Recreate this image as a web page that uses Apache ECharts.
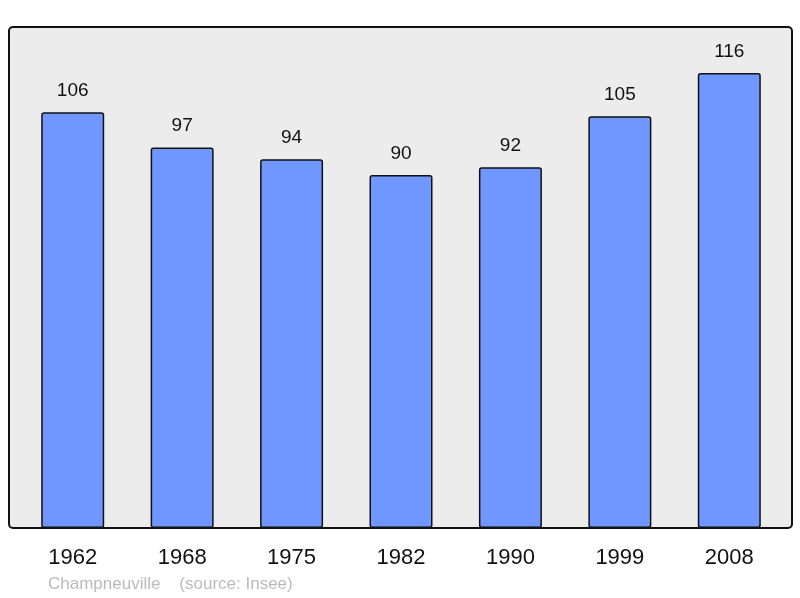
<!DOCTYPE html>
<html>
<head>
<meta charset="utf-8">
<script src="https://cdn.jsdelivr.net/npm/echarts@6/dist/echarts.min.js"></script>
<style>
  html, body { margin: 0; padding: 0; background: #fff; }
  #chart { width: 800px; height: 598px; }
</style>
</head>
<body>
<div id="chart"></div>
<script>
// données
const years = ['1962', '1968', '1975', '1982', '1990', '1999', '2008'];
const population = [106, 97, 94, 90, 92, 105, 116];
const sourceText = 'Champneuville    (source: Insee)';

const chart = echarts.init(document.getElementById('chart'));
const font = 'Liberation Sans, Arial, sans-serif';

chart.setOption({
  animation: false,
  backgroundColor: '#ffffff',
  graphic: [
    // cadre gris du graphique
    { type: 'rect', z: -1, shape: { x: 9, y: 27, width: 783, height: 501, r: 4 },
      style: { fill: '#ececec', stroke: '#111', lineWidth: 2 } },
    { type: 'text', left: 48, top: 576,
      style: { text: sourceText, fill: '#bbbbbb', font: '17px ' + font } }
  ],
  grid: { left: 18, right: 16, top: 26, bottom: 70 },
  xAxis: {
    type: 'category', data: years,
    axisLine: { show: false }, axisTick: { show: false },
    axisLabel: { color: '#111', fontSize: 22, fontFamily: font, margin: 19 }
  },
  yAxis: {
    type: 'value', min: 0, max: 128,
    show: false, splitLine: { show: false }
  },
  series: [{
    type: 'bar', data: population, barWidth: 63,
    itemStyle: { color: '#7097ff', borderColor: '#111', borderWidth: 1.5, borderRadius: 2 },
    label: { show: true, position: 'top', distance: 12, color: '#111', fontSize: 19, fontFamily: font }
  }]
});
</script>
</body>
</html>
